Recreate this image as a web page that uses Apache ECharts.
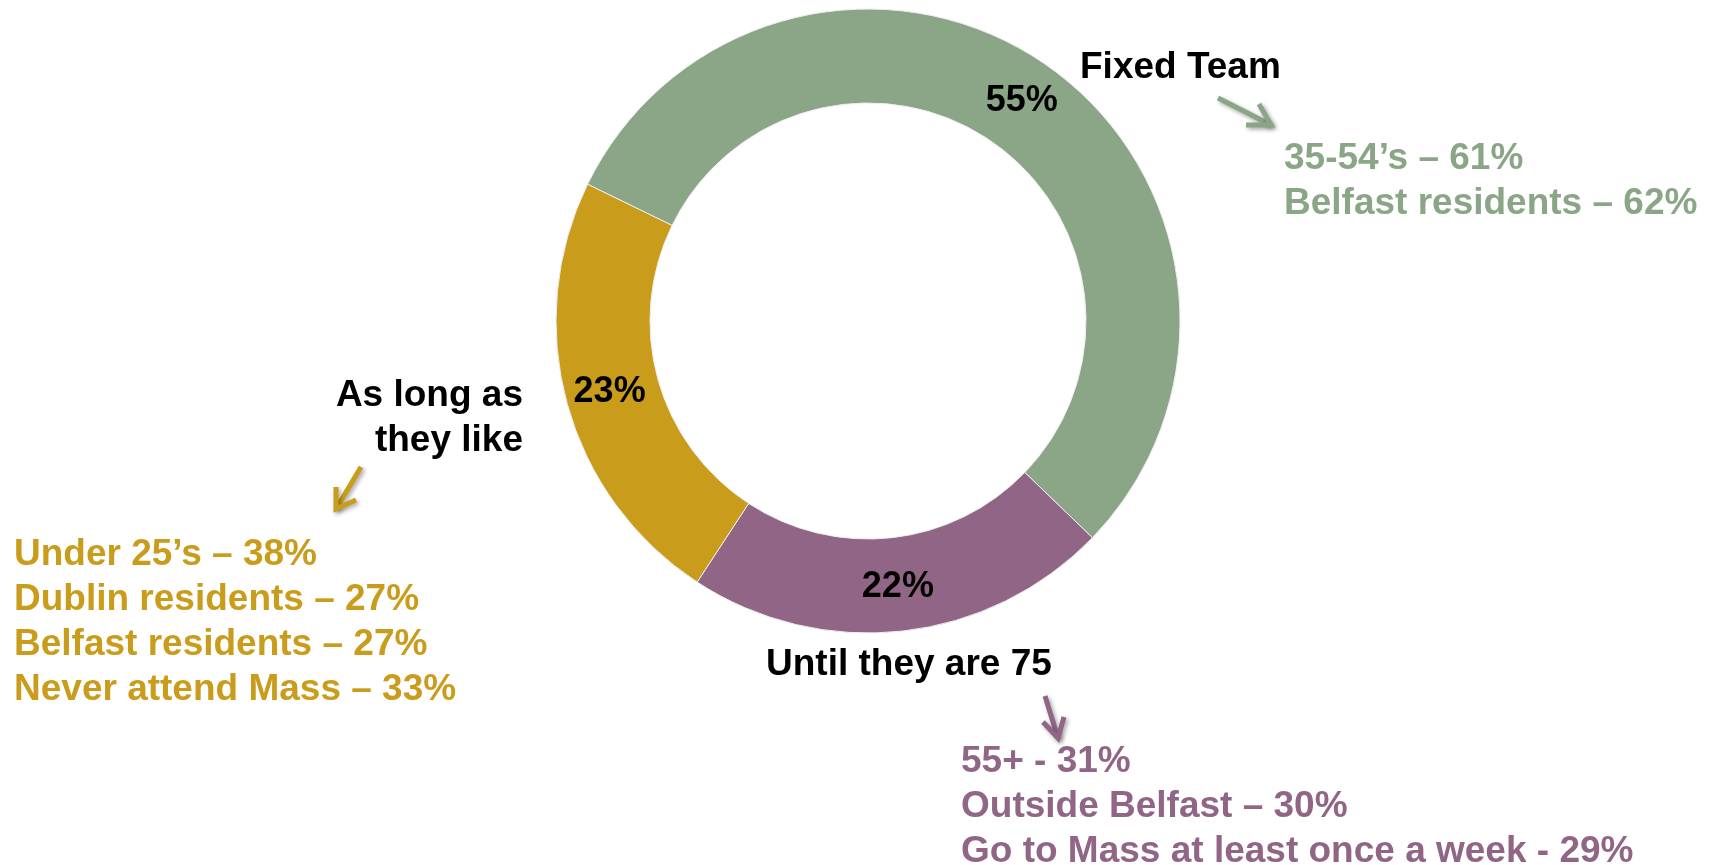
<!DOCTYPE html>
<html>
<head>
<meta charset="utf-8">
<script src="https://cdn.jsdelivr.net/npm/echarts@6/dist/echarts.min.js"></script>
<style>
    html, body { margin: 0; padding: 0; background: #fff; }
    #main { width: 1716px; height: 865px; }
</style>
</head>
<body>
<div id="main"></div>
<script>
// slices, in drawing order (clockwise from the upper left)
var sliceNames = ['Fixed Team', 'Until they are 75', 'As long as they like'];
var sliceValues = [55, 22, 23];

// sub-group call-outs per slice
var fixedTeamNotes = ['35-54\u2019s \u2013 61%', 'Belfast residents \u2013 62%'];
var until75Notes = ['55+ - 31%', 'Outside Belfast \u2013 30%', 'Go to Mass at least once a week - 29%'];
var likeNotes = ['Under 25\u2019s \u2013 38%', 'Dublin residents \u2013 27%', 'Belfast residents \u2013 27%', 'Never attend Mass \u2013 33%'];
var likeTitle = ['As long as', 'they like'];

var GREEN = '#8aa686';
var PURPLE = '#916585';
var GOLD = '#ca9c1b';
var sliceColors = [GREEN, PURPLE, GOLD];

var FONT = 'bold 37px "Liberation Sans", Arial, sans-serif';
var LINE_H = 45;

var chart = echarts.init(document.getElementById('main'));

function textLine(str, x, y, color, align) {
    return {
        type: 'text',
        x: x,
        y: y,
        silent: true,
        style: {
            text: str,
            fill: color,
            font: FONT,
            align: align || 'left',
            verticalAlign: 'middle'
        }
    };
}

function textBlock(lines, x, y, color, align) {
    return lines.map(function (s, i) {
        return textLine(s, x, y + i * LINE_H, color, align);
    });
}

// little call-out arrow: shaft + open head, with a soft shadow
function arrow(tail, tip, wingA, wingB, color) {
    var shade = {
        shadowBlur: 4,
        shadowColor: 'rgba(0,0,0,0.35)',
        shadowOffsetX: 2,
        shadowOffsetY: 2
    };
    return {
        type: 'group',
        silent: true,
        children: [{
            type: 'line',
            shape: { x1: tail[0], y1: tail[1], x2: tip[0], y2: tip[1] },
            style: Object.assign({ stroke: color, lineWidth: 5, lineCap: 'butt' }, shade)
        }, {
            type: 'polyline',
            shape: { points: [wingA, tip, wingB] },
            style: Object.assign({ stroke: color, lineWidth: 5, fill: null, lineJoin: 'miter' }, shade)
        }]
    };
}

var graphics = []
    .concat([textLine(sliceNames[0], 1080, 68, '#000')])
    .concat(textBlock(fixedTeamNotes, 1284, 159, GREEN))
    .concat([textLine(sliceNames[1], 766, 665, '#000')])
    .concat(textBlock(until75Notes, 961, 762, PURPLE))
    .concat(textBlock(likeTitle, 523, 396, '#000', 'right'))
    .concat(textBlock(likeNotes, 14, 555, GOLD))
    .concat([
        arrow([1218, 98], [1271, 125], [1246, 125], [1259, 104], GREEN),
        arrow([361, 467], [336, 509], [336, 487], [356, 500], GOLD),
        arrow([1045, 696], [1058, 738], [1043, 722], [1064, 717], PURPLE)
    ]);

var option = {
    backgroundColor: '#fff',
    animation: false,
    series: [{
        type: 'pie',
        center: [868, 321],
        radius: [218, 312],
        startAngle: 154,
        clockwise: true,
        avoidLabelOverlap: false,
        silent: true,
        itemStyle: {
            borderColor: '#eeeeee',
            borderWidth: 1
        },
        label: {
            show: true,
            position: 'inside',
            formatter: '{c}%',
            color: '#000',
            fontSize: 36,
            fontWeight: 'bold',
            fontFamily: '"Liberation Sans", Arial, sans-serif'
        },
        labelLine: { show: false },
        emphasis: { scale: false },
        data: sliceNames.map(function (n, i) {
            return { name: n, value: sliceValues[i], itemStyle: { color: sliceColors[i] } };
        })
    }],
    graphic: graphics
};

chart.setOption(option);
</script>
</body>
</html>
